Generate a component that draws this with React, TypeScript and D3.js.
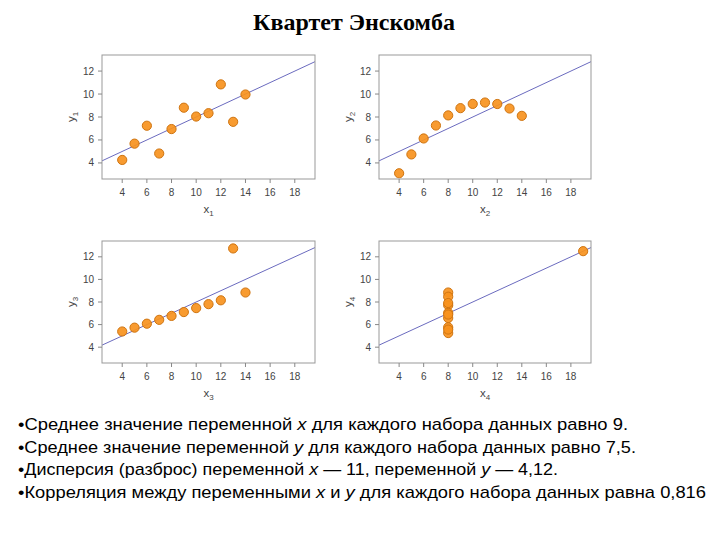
import React from "react";
import * as d3 from "d3";

const TITLE = "Квартет Энскомба";
const X123 = [10, 8, 13, 9, 11, 14, 6, 4, 12, 7, 5];
const Y1 = [8.04, 6.95, 7.58, 8.81, 8.33, 9.96, 7.24, 4.26, 10.84, 4.82, 5.68];
const Y2 = [9.14, 8.14, 8.74, 8.77, 9.26, 8.1, 6.13, 3.1, 9.13, 7.26, 4.74];
const Y3 = [7.46, 6.77, 12.74, 7.11, 7.81, 8.84, 6.08, 5.39, 8.15, 6.42, 5.73];
const X4 = [8, 8, 8, 8, 8, 8, 8, 19, 8, 8, 8];
const Y4 = [6.58, 5.76, 7.71, 8.84, 8.47, 7.04, 5.25, 12.5, 5.56, 7.91, 6.89];
const X_TICKS = [4, 6, 8, 10, 12, 14, 16, 18];
const Y_TICKS = [4, 6, 8, 10, 12];
const FIT_INTERCEPT = 3;
const FIT_SLOPE = 0.5;

const PANELS = [
  { xs: X123, ys: Y1, idx: "1", box: [102, 55, 315, 179] },
  { xs: X123, ys: Y2, idx: "2", box: [379, 55, 591, 179] },
  { xs: X123, ys: Y3, idx: "3", box: [102, 241, 315, 363] },
  { xs: X4, ys: Y4, idx: "4", box: [379, 241, 591, 363] },
];

const BULLETS: { text: string; italic?: boolean }[][] = [
  [{ text: "•Среднее значение переменной " }, { text: "x", italic: true }, { text: " для каждого набора данных равно 9." }],
  [{ text: "•Среднее значение переменной " }, { text: "y", italic: true }, { text: " для каждого набора данных равно 7,5." }],
  [{ text: "•Дисперсия (разброс) переменной " }, { text: "x", italic: true }, { text: " — 11, переменной " }, { text: "y", italic: true }, { text: " — 4,12." }],
  [{ text: "•Корреляция между переменными " }, { text: "x", italic: true }, { text: " и " }, { text: "y", italic: true }, { text: " для каждого набора данных равна 0,816" }],
];
const BULLET_WIDTHS = [610, 618, 540, 688];

const X_DOMAIN = [2.36, 19.64];
const Y_DOMAIN = [2.6, 13.4];

function Panel({ p }: { p: (typeof PANELS)[number] }) {
  const [x0, y0, x1, y1] = p.box;
  const x = d3.scaleLinear().domain(X_DOMAIN).range([x0, x1]);
  const y = d3.scaleLinear().domain(Y_DOMAIN).range([y1, y0]);
  const line = d3.line<number>().x((d) => x(d)).y((d) => y(FIT_INTERCEPT + FIT_SLOPE * d));
  const tickColor = "#444";
  const font = "Liberation Sans, Arial, sans-serif";
  return (
    <g>
      <path d={line(X_DOMAIN) || ""} stroke="#6b6bbf" strokeWidth={1} fill="none" />
      {p.xs.map((xv, i) => (
        <circle key={i} cx={x(xv)} cy={y(p.ys[i])} r={4.6} fill="#f7931e" stroke="#cf7410" strokeWidth={1} fillOpacity={0.92} />
      ))}
      <rect x={x0} y={y0} width={x1 - x0} height={y1 - y0} fill="none" stroke="#999" strokeWidth={1} />
      {X_TICKS.map((t) => (
        <g key={t}>
          <line x1={x(t)} x2={x(t)} y1={y1} y2={y1 + 4} stroke="#888" />
          <text x={x(t)} y={y1 + 17} textAnchor="middle" fontSize={10} fill={tickColor} fontFamily={font}>
            {t}
          </text>
        </g>
      ))}
      {Y_TICKS.map((t) => (
        <g key={t}>
          <line x1={x0 - 4} x2={x0} y1={y(t)} y2={y(t)} stroke="#888" />
          <text x={x0 - 8} y={y(t) + 3.5} textAnchor="end" fontSize={10} fill={tickColor} fontFamily={font}>
            {t}
          </text>
        </g>
      ))}
      <text x={(x0 + x1) / 2} y={y1 + 34} textAnchor="middle" fontSize={11.5} fill={tickColor} fontFamily={font}>
        x<tspan fontSize={8} dy={3}>{p.idx}</tspan>
      </text>
      <text
        transform={`translate(${x0 - 27},${(y0 + y1) / 2}) rotate(-90)`}
        textAnchor="middle"
        fontSize={11.5}
        fill={tickColor}
        fontFamily={font}
      >
        y<tspan fontSize={8} dy={3}>{p.idx}</tspan>
      </text>
    </g>
  );
}

export default function App() {
  return (
    <svg width={720} height={540} style={{ position: "absolute", left: 0, top: 0, background: "#fff" }}>
      <rect width={720} height={540} fill="#fff" />
      <text x={354} y={30} textAnchor="middle" fontSize={24} fontWeight="bold" fontFamily="Liberation Serif, Times New Roman, serif" fill="#000">
        {TITLE}
      </text>
      {PANELS.map((p) => (
        <Panel key={p.idx} p={p} />
      ))}
      {BULLETS.map((parts, i) => (
        <text
          key={i}
          x={18}
          y={430 + i * 22.5}
          fontSize={17}
          fontFamily="Liberation Sans, Arial, sans-serif"
          fill="#000"
          textLength={BULLET_WIDTHS[i]}
          lengthAdjust="spacingAndGlyphs"
        >
          {parts.map((s, j) => (
            <tspan key={j} fontStyle={s.italic ? "italic" : "normal"}>
              {s.text}
            </tspan>
          ))}
        </text>
      ))}
    </svg>
  );
}
